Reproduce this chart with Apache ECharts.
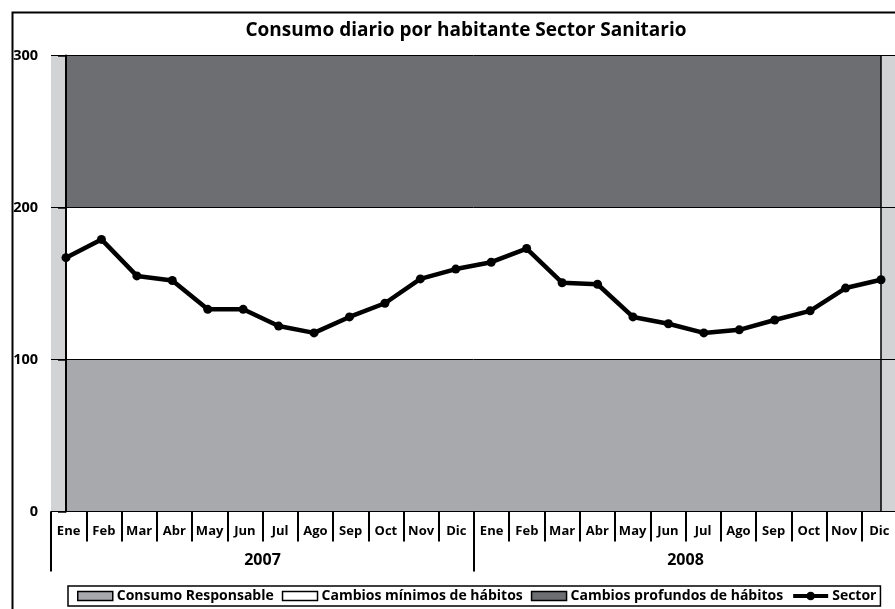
<!DOCTYPE html>
<html>
<head>
<meta charset="utf-8">
<script src="https://cdn.jsdelivr.net/npm/echarts@6/dist/echarts.min.js"></script>
<style>
html,body{margin:0;padding:0;background:#fff;}
#c{width:895px;height:609px;}
</style>
</head>
<body>
<div id="c"></div>
<script>
// ---- data ----
const months = ["Ene","Feb","Mar","Abr","May","Jun","Jul","Ago","Sep","Oct","Nov","Dic",
                "Ene","Feb","Mar","Abr","May","Jun","Jul","Ago","Sep","Oct","Nov","Dic"];
const years = ["2007","2008"];
const sector = [167,179,155,152,133,133,122,117.5,128,137,153,159.5,
                164,173,150.5,149.5,128,123.5,117.5,119.5,126,132,147,152.5];
const bandNames = ["Consumo Responsable","Cambios mínimos de hábitos","Cambios profundos de hábitos"];
const bandTops = [100,200,300];
const yTicks = [0,100,200,300];
const lineName = "Sector";
const titleText = "Consumo diario por habitante Sector Sanitario";

// ---- styles ----
const bandColors = ["#a7a9ac","#ffffff","#6d6e71"];
const FONT = "'Open Sans', 'Noto Sans', sans-serif";

const chart = echarts.init(document.getElementById('c'), null, {renderer:'canvas'});

const areaSeries = bandNames.map((n, k) => ({
  name: n,
  type: 'line',
  xAxisIndex: 2,
  yAxisIndex: 0,
  data: months.map((m, i) => [i, bandTops[k]]),
  showSymbol: false,
  symbol: 'none',
  lineStyle: {width: 0, opacity: 0},
  itemStyle: {color: bandColors[k]},
  areaStyle: {color: bandColors[k], opacity: 1},
  z: 2 + (bandNames.length - k) * 0.1,
  silent: true
})).reverse();

const option = {
  backgroundColor: '#ffffff',
  animation: false,
  title: {
    text: titleText,
    left: 466, textAlign: 'center',
    top: 21,
    padding: 0,
    textStyle: {fontFamily: FONT, fontSize: 19, fontWeight: 'bold', color: '#000'}
  },
  legend: {
    left: 68, top: 586,
    padding: [3, 4, 3, 9],
    itemGap: 8,
    itemWidth: 35, itemHeight: 9,
    borderColor: '#000', borderWidth: 1.5,
    itemStyle: {borderColor: '#000', borderWidth: 1.5},
    textStyle: {fontFamily: FONT, fontSize: 14, fontWeight: 'bold', color: '#000', padding: [0,0,0,-1]},
    data: [
      {name: bandNames[0], icon: 'rect'},
      {name: bandNames[1], icon: 'rect'},
      {name: bandNames[2], icon: 'rect'},
      {name: lineName, lineStyle: {width: 4, color: '#000'}}
    ]
  },
  grid: {
    left: 51, top: 55.5, width: 846, height: 456,
    show: true, backgroundColor: '#d1d3d4', borderWidth: 0,
    containLabel: false, outerBoundsMode: 'none'
  },
  xAxis: [
    {
      type: 'category', data: months, position: 'bottom', boundaryGap: true, z: 5,
      axisLine: {show: true, lineStyle: {color: '#000', width: 1}},
      axisTick: {show: true, interval: 0, length: 30, lineStyle: {color: '#000', width: 2}},
      axisLabel: {interval: 0, margin: 13, fontFamily: FONT, fontSize: 13, fontWeight: 'bold', color: '#000'},
      splitLine: {show: false}
    },
    {
      type: 'category', data: years, position: 'bottom', boundaryGap: true, offset: 0, z: 5,
      axisLine: {show: false},
      axisTick: {show: true, interval: 0, length: 60, lineStyle: {color: '#000', width: 2}},
      axisLabel: {interval: 0, margin: 41, fontFamily: FONT, fontSize: 16, fontWeight: 'bold', color: '#000'},
      splitLine: {show: false}
    },
    {
      type: 'value', position: 'top', show: false,
      min: -0.4233, max: 23.4515,
      splitLine: {show: false}
    }
  ],
  yAxis: {
    type: 'value', min: yTicks[0], max: yTicks[yTicks.length-1], interval: 100, offset: 1, z: 5,
    axisLine: {show: true, lineStyle: {color: '#000', width: 2}},
    axisTick: {show: true, length: 8, lineStyle: {color: '#000', width: 1.5}},
    axisLabel: {margin: 12, fontFamily: FONT, fontSize: 14.5, fontWeight: 'bold', color: '#000'},
    splitLine: {show: true, lineStyle: {color: '#000', width: 1}}
  },
  series: areaSeries.concat([{
    name: lineName,
    type: 'line',
    xAxisIndex: 2,
    yAxisIndex: 0,
    data: sector.map((v, i) => [i, v]),
    symbol: 'circle', symbolSize: 9,
    itemStyle: {color: '#000'},
    lineStyle: {color: '#000', width: 4.5},
    z: 10,
    markLine: {
      silent: true, symbol: 'none', label: {show: false},
      lineStyle: {color: '#000', width: 1.5, type: 'solid'},
      data: [{xAxis: 0}, {xAxis: months.length - 1}]
    }
  }]),
  graphic: [{
    type: 'rect', left: 10, top: 10, z: 100, silent: true,
    shape: {width: 1000, height: 1000},
    style: {fill: 'none', stroke: '#000', lineWidth: 2}
  }]
};
chart.setOption(option);
</script>
</body>
</html>
